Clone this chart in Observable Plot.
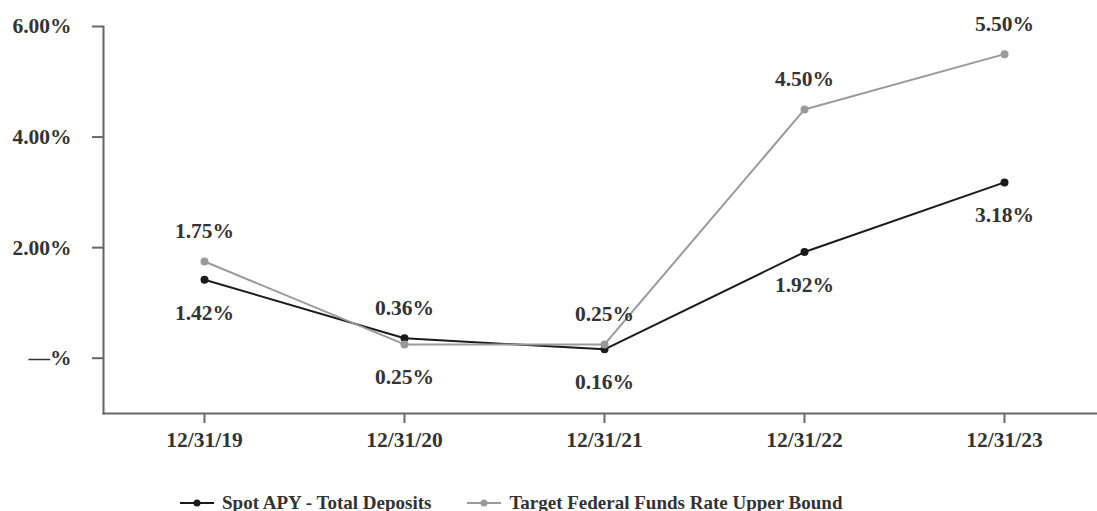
<!DOCTYPE html>
<html>
<head>
<meta charset="utf-8">
<script src="https://cdn.jsdelivr.net/npm/d3@7"></script>
<script src="https://cdn.jsdelivr.net/npm/@observablehq/plot@0.6"></script>
<style>
  body { margin: 0; background: #fff; font-family: "Liberation Serif", "Times New Roman", serif; }
  #chart svg { display: block; }
  .legend { display: flex; align-items: center; height: 46px; padding-left: 180px; font-weight: bold; font-size: 19px; color: #333; }
  .legend .item { display: flex; align-items: center; margin-right: 36px; }
  .legend svg { margin-right: 8px; }
</style>
</head>
<body>
<div id="chart"></div>
<script>
const dates = ["12/31/19", "12/31/20", "12/31/21", "12/31/22", "12/31/23"];
const spotAPY = [1.42, 0.36, 0.16, 1.92, 3.18];
const fedFunds = [1.75, 0.25, 0.25, 4.50, 5.50];
const seriesNames = ["Spot APY - Total Deposits", "Target Federal Funds Rate Upper Bound"];
const seriesColors = ["#1a1a1a", "#9a9a9a"];
const yTicks = [0, 2, 4, 6];

const rows = [];
dates.forEach((d, i) => {
  rows.push({date: d, value: spotAPY[i], series: seriesNames[0], above: spotAPY[i] > fedFunds[i]});
  rows.push({date: d, value: fedFunds[i], series: seriesNames[1], above: fedFunds[i] >= spotAPY[i]});
});
const fmt = v => v === 0 ? "\u2014%" : d3.format(".2f")(v) + "%";

const plot = Plot.plot({
  width: 1097,
  height: 480,
  marginLeft: 103,
  marginRight: 0,
  marginTop: 26,
  marginBottom: 67,
  style: {fontFamily: "'Liberation Serif', 'Times New Roman', serif", fontWeight: "bold", fontSize: "21px", color: "#333", background: "#fff"},
  x: {type: "point", domain: dates, range: [204, 1004], padding: 0, label: null},
  y: {domain: [-1, 6], label: null},
  color: {domain: seriesNames, range: seriesColors},
  marks: [
    Plot.axisY({ticks: yTicks, tickFormat: fmt, tickSize: 11, tickPadding: 21, stroke: "#666", strokeWidth: 2, fill: "#333", fontSize: 21.5, fontWeight: "bold", label: null}),
    Plot.axisX({tickSize: 10, tickPadding: 8, stroke: "#666", strokeWidth: 2, fill: "#333", fontSize: 21.5, fontWeight: "bold", label: null}),
    Plot.frame({anchor: "left", stroke: "#666", strokeWidth: 2}),
    Plot.frame({anchor: "bottom", stroke: "#666", strokeWidth: 2}),
    Plot.line(rows, {x: "date", y: "value", z: "series", stroke: "series", strokeWidth: 2}),
    Plot.dot(rows, {x: "date", y: "value", fill: "series", r: 4}),
    Plot.text(rows.filter(d => d.above), {x: "date", y: "value", text: d => fmt(d.value), dy: -30, fill: "#333", fontSize: 21.5, fontWeight: "bold"}),
    Plot.text(rows.filter(d => !d.above), {x: "date", y: "value", text: d => fmt(d.value), dy: 33, fill: "#333", fontSize: 21.5, fontWeight: "bold"})
  ]
});
document.getElementById("chart").appendChild(plot);

const legend = document.createElement("div");
legend.className = "legend";
seriesNames.forEach((name, i) => {
  const item = document.createElement("div");
  item.className = "item";
  item.innerHTML = `<svg width="34" height="10"><line x1="0" y1="5" x2="34" y2="5" stroke="${seriesColors[i]}" stroke-width="2"/><circle cx="17" cy="5" r="3.5" fill="${seriesColors[i]}"/></svg><span>${name}</span>`;
  legend.appendChild(item);
});
document.body.appendChild(legend);
</script>
</body>
</html>
